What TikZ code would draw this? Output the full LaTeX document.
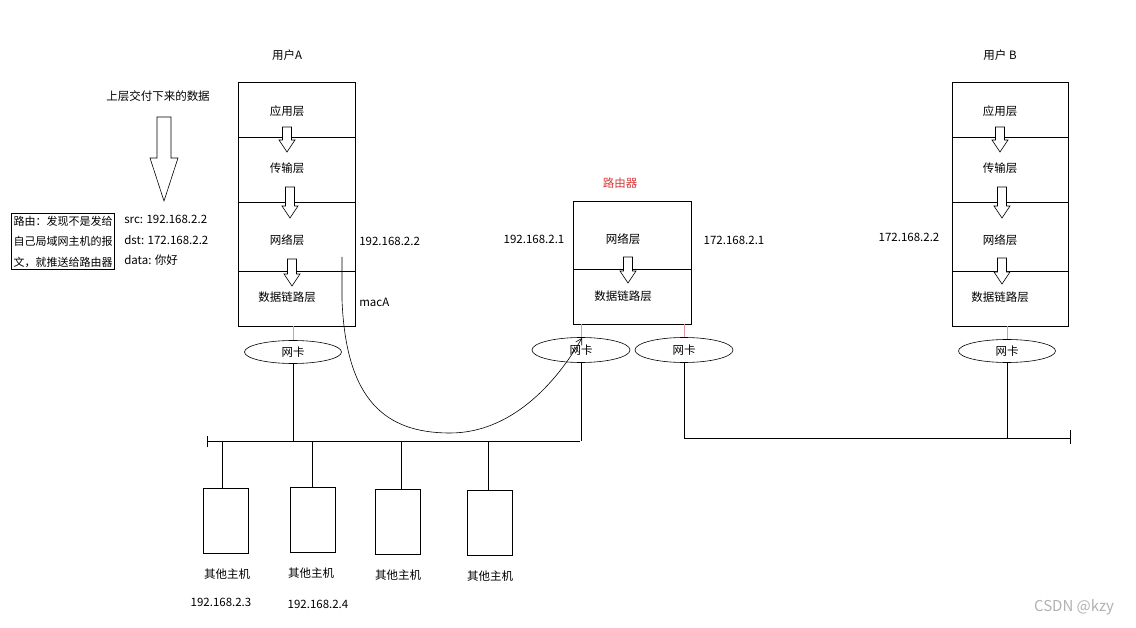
\documentclass[tikz,border=0pt]{standalone}
\usepackage{fontspec}
\setmainfont{Noto Sans CJK SC}
\usetikzlibrary{shapes.geometric,arrows.meta}
\definecolor{pinkline}{RGB}{225,150,165}
\definecolor{routerred}{RGB}{215,60,60}
\begin{document}
\begin{tikzpicture}[x=1pt,y=-1pt,line width=0.6pt,
  font=\fontsize{11.5}{13}\selectfont,
  layer/.style={draw,rectangle,inner sep=0pt,minimum width=117pt},
  lbl/.style={inner sep=0pt,anchor=center},
  nic/.style={draw,ellipse,inner sep=0pt,minimum width=97pt,minimum height=23pt},
  host/.style={draw,rectangle,inner sep=0pt,minimum width=45pt,minimum height=65pt},
  hollowarrow/.pic={\draw[fill=white] (-4.5,0) -- (4.5,0) -- (4.5,#1-12) -- (8,#1-12) -- (0,#1) -- (-8,#1-12) -- (-4.5,#1-12) -- cycle;},
  pinkconn/.style={draw=pinkline},
]
\useasboundingbox[fill=white] (0,0) rectangle (1136,628);

% ---------- user A ----------
\node[lbl] (userA) at (287,55) {用户A};
\node[layer,minimum height=55pt] (A1) at (296.5,109.5) {};
\node[layer,minimum height=65pt] (A2) at (296.5,169.5) {};
\node[layer,minimum height=69pt] (A3) at (296.5,236.5) {};
\node[layer,minimum height=55pt] (A4) at (296.5,298.5) {};
\node[lbl] (A1t) at (287,111) {应用层};
\node[lbl] (A2t) at (287,168) {传输层};
\node[lbl] (A3t) at (287,240) {网络层};
\node[lbl] (A4t) at (287,297) {数据链路层};
\pic at (287,127) {hollowarrow=25};
\pic at (290,187) {hollowarrow=31};
\pic at (292,259) {hollowarrow=27};
\node[lbl,anchor=west] (ipA) at (359,241) {192.168.2.2};
\node[lbl,anchor=west] (macA) at (359,302) {macA};

% big arrow and annotation
\node[lbl] (upper) at (158,96) {上层交付下来的数据};
\draw[fill=white] (157,117) -- (171,117) -- (171,158) -- (178,158) -- (164,201) -- (150,158) -- (157,158) -- cycle;
\node[draw,rectangle,inner sep=2pt,align=left,font=\fontsize{11}{20.5}\selectfont] (route) at (63,241.5) {路由：发现不是发给\\自己局域网主机的报\\文，就推送给路由器};
\node[lbl,anchor=west] (src) at (124,219) {src: 192.168.2.2};
\node[lbl,anchor=west] (dst) at (124,240) {dst: 172.168.2.2};
\node[lbl,anchor=west] (data) at (124,260) {data: 你好};

\node[nic] (nicA) at (293,352) {网卡};
\draw[pinkconn] (nicA.north |- A4.south) -- (nicA.north);

% ---------- router ----------
\node[lbl,text=routerred] (rtitle) at (620,183) {路由器};
\node[layer,minimum width=118pt,minimum height=68pt] (R1) at (632,235) {};
\node[layer,minimum width=118pt,minimum height=55pt] (R2) at (632,296.5) {};
\node[lbl] (R1t) at (623,239) {网络层};
\node[lbl] (R2t) at (623,296) {数据链路层};
\pic at (628,257) {hollowarrow=26};
\node[lbl] (ipR1) at (534,239) {192.168.2.1};
\node[lbl] (ipR2) at (734,240) {172.168.2.1};
\node[nic,minimum width=98pt,minimum height=25pt] (nicR1) at (581,350) {网卡};
\node[nic,minimum width=98pt,minimum height=25pt] (nicR2) at (684,350) {网卡};
\draw[pinkconn] (nicR1.north |- R2.south) -- (nicR1.north);
\draw[pinkconn] (nicR2.north |- R2.south) -- (nicR2.north);

% ---------- user B ----------
\node[lbl] (userB) at (1000,55) {用户 B};
\node[layer,minimum width=116pt,minimum height=55pt] (B1) at (1010,109.5) {};
\node[layer,minimum width=116pt,minimum height=65pt] (B2) at (1010,169.5) {};
\node[layer,minimum width=116pt,minimum height=69pt] (B3) at (1010,236.5) {};
\node[layer,minimum width=116pt,minimum height=55pt] (B4) at (1010,298.5) {};
\node[lbl] (B1t) at (1000,111) {应用层};
\node[lbl] (B2t) at (1000,168) {传输层};
\node[lbl] (B3t) at (1000,240) {网络层};
\node[lbl] (B4t) at (1000,297) {数据链路层};
\pic at (1000,127) {hollowarrow=25};
\pic at (1002,187) {hollowarrow=31};
\pic at (1002,258) {hollowarrow=26};
\node[lbl] (ipB) at (909,237) {172.168.2.2};
\node[nic] (nicB) at (1007,351) {网卡};
\draw[pinkconn] (nicB.north |- B4.south) -- (nicB.north);

% ---------- left bus ----------
\coordinate (busL) at (207,441);
\coordinate (busLend) at (580,441);
\draw (busL) -- (busLend);
\draw ([yshift=-6pt]busL) -- ([yshift=5pt]busL);
\draw (nicA.south) -- (nicA.south |- busL);
\draw (nicR1.south) -- (nicR1.south |- busL);

% hosts
\node[host] (h1) at (225.5,520.5) {};
\node[host] (h2) at (312.5,520) {};
\node[host] (h3) at (398,521.5) {};
\node[host] (h4) at (489.5,522.5) {};
\draw (222,441) -- (222,488);
\draw (h2.north) -- (h2.north |- busL);
\draw (401,441) -- (401,489);
\draw (488,441) -- (488,490);
\node[lbl] (h1t) at (227,574) {其他主机};
\node[lbl] (h2t) at (311,573) {其他主机};
\node[lbl] (h3t) at (398,575) {其他主机};
\node[lbl] (h4t) at (490,576) {其他主机};
\node[lbl] (h1ip) at (221,602) {192.168.2.3};
\node[lbl] (h2ip) at (318,604) {192.168.2.4};

% ---------- right bus ----------
\coordinate (busR) at (684,438);
\coordinate (busRend) at (1070,438);
\draw (nicR2.south) -- (busR) -- (busRend);
\draw ([yshift=-6pt]busRend) -- ([yshift=8pt]busRend);
\draw (nicB.south) -- (nicB.south |- busR);

% ---------- path of the packet ----------
\coordinate (pstart) at (342,257);
\coordinate (pend) at (582,338);
\draw[-{Straight Barb[length=6pt,width=7pt]}] (pstart) -- (342,300)
  .. controls (346,400) and (385,433) .. (450,433)
  .. controls (510,433) and (555,385) .. (pend);

% watermark
\node[lbl,text=gray!60,font=\fontsize{15}{17}\selectfont] (wm) at (1074,607) {CSDN @kzy};
\end{tikzpicture}
\end{document}
